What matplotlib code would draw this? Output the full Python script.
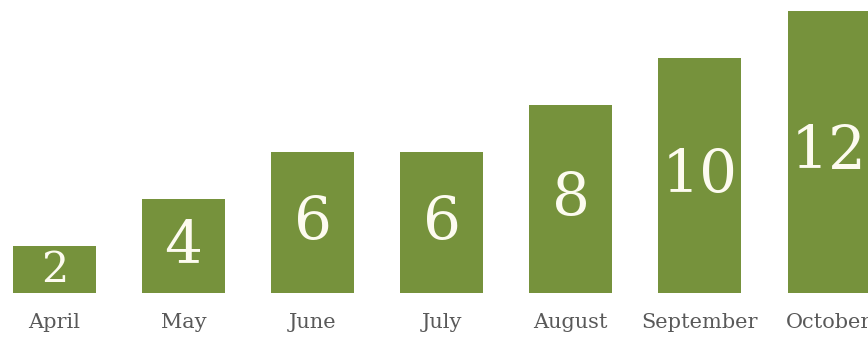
import matplotlib.pyplot as plt

# Monthly counts
months = ["April", "May", "June", "July", "August", "September", "October"]
values = [2, 4, 6, 6, 8, 10, 12]

bar_color = "#76923c"
label_color = "#595959"

fig = plt.figure(figsize=(8.68, 3.38), dpi=100)
ax = fig.add_axes([0, 45 / 338, 1, 293 / 338])

x = range(len(months))
bars = ax.bar(x, values, width=0.636, color=bar_color)

# value labels inside bars, smaller one for the short bar
for xi, v in zip(x, values):
    size = 31 if v <= 2 else 43
    ax.text(xi, v / 2, str(v), ha="center", va="center",
            fontsize=size, color="#fdfbf0", family="DejaVu Serif")

ax.set_xticks(list(x))
ax.set_xticklabels(months, fontsize=15, color=label_color, family="DejaVu Serif")
ax.tick_params(axis="x", length=0, pad=14.5)
ax.set_yticks([])

# the last bar runs off the right edge, as in the original
ax.set_xlim(-0.4225, 6.306)
ax.set_ylim(0, 12.47)

for s in ax.spines.values():
    s.set_visible(False)

fig.savefig("out.png", dpi=100)
